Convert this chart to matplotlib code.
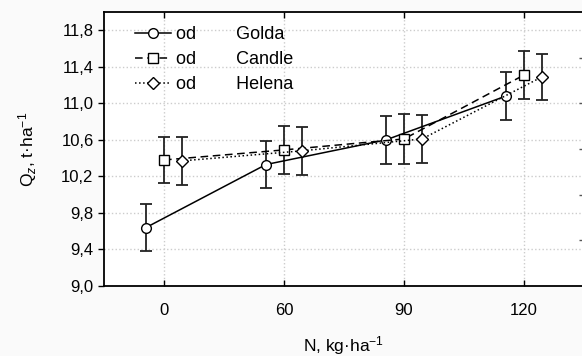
import matplotlib
matplotlib.use('Agg')
import matplotlib.pyplot as plt
import numpy as np

plt.rcParams['font.family'] = ['Liberation Sans', 'DejaVu Sans']
plt.rcParams['mathtext.fontset'] = 'custom'
plt.rcParams['mathtext.rm'] = 'Liberation Sans'
plt.rcParams['mathtext.it'] = 'Liberation Sans:italic'

# data
categories = ['0', '60', '90', '120']
golda = [9.64, 10.33, 10.60, 11.08]
golda_err = [0.26, 0.26, 0.26, 0.26]
candle = [10.38, 10.49, 10.61, 11.31]
candle_err = [0.25, 0.26, 0.27, 0.26]
helena = [10.37, 10.48, 10.61, 11.29]
helena_err = [0.26, 0.26, 0.26, 0.25]
yticks = [9.0, 9.4, 9.8, 10.2, 10.6, 11.0, 11.4, 11.8]
right_ticks = [9.5, 10.0, 10.5, 11.0, 11.5]

fig = plt.figure(figsize=(5.82, 3.56), dpi=100, facecolor='#fafafa')
ax = fig.add_axes([104 / 582, 70 / 356, 480 / 582, 274 / 356])
ax.set_facecolor('white')

x = np.arange(len(categories))
series = [
    (golda, golda_err, -0.15, '-', 'o', 7, 'Golda'),
    (candle, candle_err, 0.0, (0, (5, 3)), 's', 7, 'Candle'),
    (helena, helena_err, 0.15, ':', 'D', 6, 'Helena'),
]
handles = []
for vals, err, off, ls, mk, ms, name in series:
    ax.errorbar(x + off, vals, yerr=err, fmt='none', ecolor='#222222',
                elinewidth=1.3, capsize=4.5, capthick=1.3, zorder=2)
    line, = ax.plot(x + off, vals, color='black', linestyle=ls, linewidth=1.1,
                    marker=mk, markersize=ms, markerfacecolor='white',
                    markeredgecolor='black', markeredgewidth=1.0, zorder=3,
                    label='od' + ' ' * 8 + name)
    handles.append(line)

ax.set_xlim(-0.5, 3.5)
ax.set_ylim(9.0, 12.0)
ax.set_xticks(x)
ax.set_xticklabels(categories)
ax.set_yticks(yticks)
ax.set_yticklabels([f'{v:.1f}'.replace('.', ',') for v in yticks])
ax.tick_params(axis='x', direction='in', length=4, width=1, top=True,
               labelsize=12, pad=12)
ax.tick_params(axis='y', direction='out', length=4, width=1, labelsize=12)
ax.grid(True, color='#cccccc', linestyle=':', linewidth=1)
ax.set_axisbelow(True)
for side in ['left', 'top', 'bottom']:
    ax.spines[side].set_linewidth(1.3)
ax.spines['right'].set_visible(False)

# right-hand tick marks (axis itself is cut off by the image edge)
ax2 = ax.twinx()
ax2.set_ylim(ax.get_ylim())
ax2.set_yticks(right_ticks)
ax2.tick_params(axis='y', direction='in', length=3.5, width=1, labelright=False,
                color='#555555')
for s in ax2.spines.values():
    s.set_visible(False)

ax.set_xlabel('N, kg·ha$^{-1}$', fontsize=12.5, labelpad=12)
ax.set_ylabel('Q$_z$, t·ha$^{-1}$', fontsize=12.5, labelpad=16)

ax.legend(handles=handles, loc='upper left', bbox_to_anchor=(0.064, 0.948),
          frameon=False, fontsize=13, handlelength=2.0, handletextpad=0.3,
          labelspacing=0.44, borderpad=0, borderaxespad=0)

fig.savefig('out.png', dpi=100, facecolor=fig.get_facecolor())
